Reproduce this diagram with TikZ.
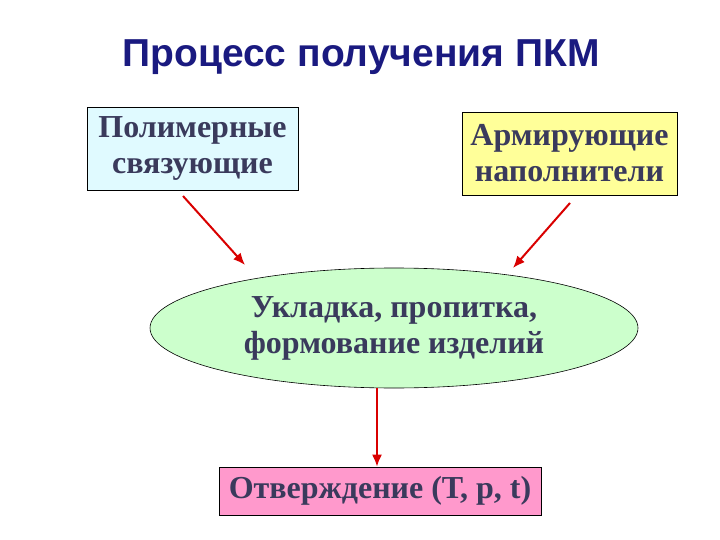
\documentclass[tikz,border=0pt]{standalone}
\usepackage{fontspec}
\setmainfont{Liberation Serif}
\newfontfamily\titlefont{Liberation Sans}
\usetikzlibrary{shapes.geometric,arrows.meta}
\definecolor{tcol}{HTML}{3A3A5C}
\definecolor{ttl}{HTML}{1A1A80}
\definecolor{c1}{HTML}{E0FAFF}
\definecolor{c2}{HTML}{FFFF99}
\definecolor{c3}{HTML}{CCFFCC}
\definecolor{c4}{HTML}{FF99CC}
\tikzset{
 box/.style={draw=black, line width=0.6pt, align=center, inner sep=0pt, text=tcol, font=\bfseries\fontsize{32}{36}\selectfont},
 arr/.style={draw=red!85!black, line width=2pt, -{Latex[length=12pt,width=10pt]}},
}
\begin{document}
\begin{tikzpicture}[x=1pt,y=-1pt]
\useasboundingbox (0,0) rectangle (720,540);
\node (title) [text=ttl, font=\titlefont\bfseries\fontsize{39}{42}\selectfont] at (361,57) {Процесс получения ПКМ};
\node (b1) [box, fill=c1, minimum width=211pt, minimum height=83pt] at (192.5,148.5) {Полимерные\\связующие};
\node (b2) [box, fill=c2, minimum width=215pt, minimum height=83pt] at (569.5,153.5) {Армирующие\\наполнители};
\node (e) [box, ellipse, fill=c3, minimum width=488pt, minimum height=120pt] at (394,328) {Укладка, пропитка,\\формование изделий};
\node (b3) [box, fill=c4, minimum width=322pt, minimum height=48pt] at (380,491) {Отверждение (Т, р, t)};
\coordinate (a1s) at (183,196); \coordinate (a1e) at (245,265);
\coordinate (a2s) at (570,203); \coordinate (a2e) at (513,268);
\draw[arr] (a1s) -- (a1e);
\draw[arr] (a2s) -- (a2e);
\draw[arr] (e.south -| 377,0) -- (b3.north -| 377,0);
\end{tikzpicture}
\end{document}
